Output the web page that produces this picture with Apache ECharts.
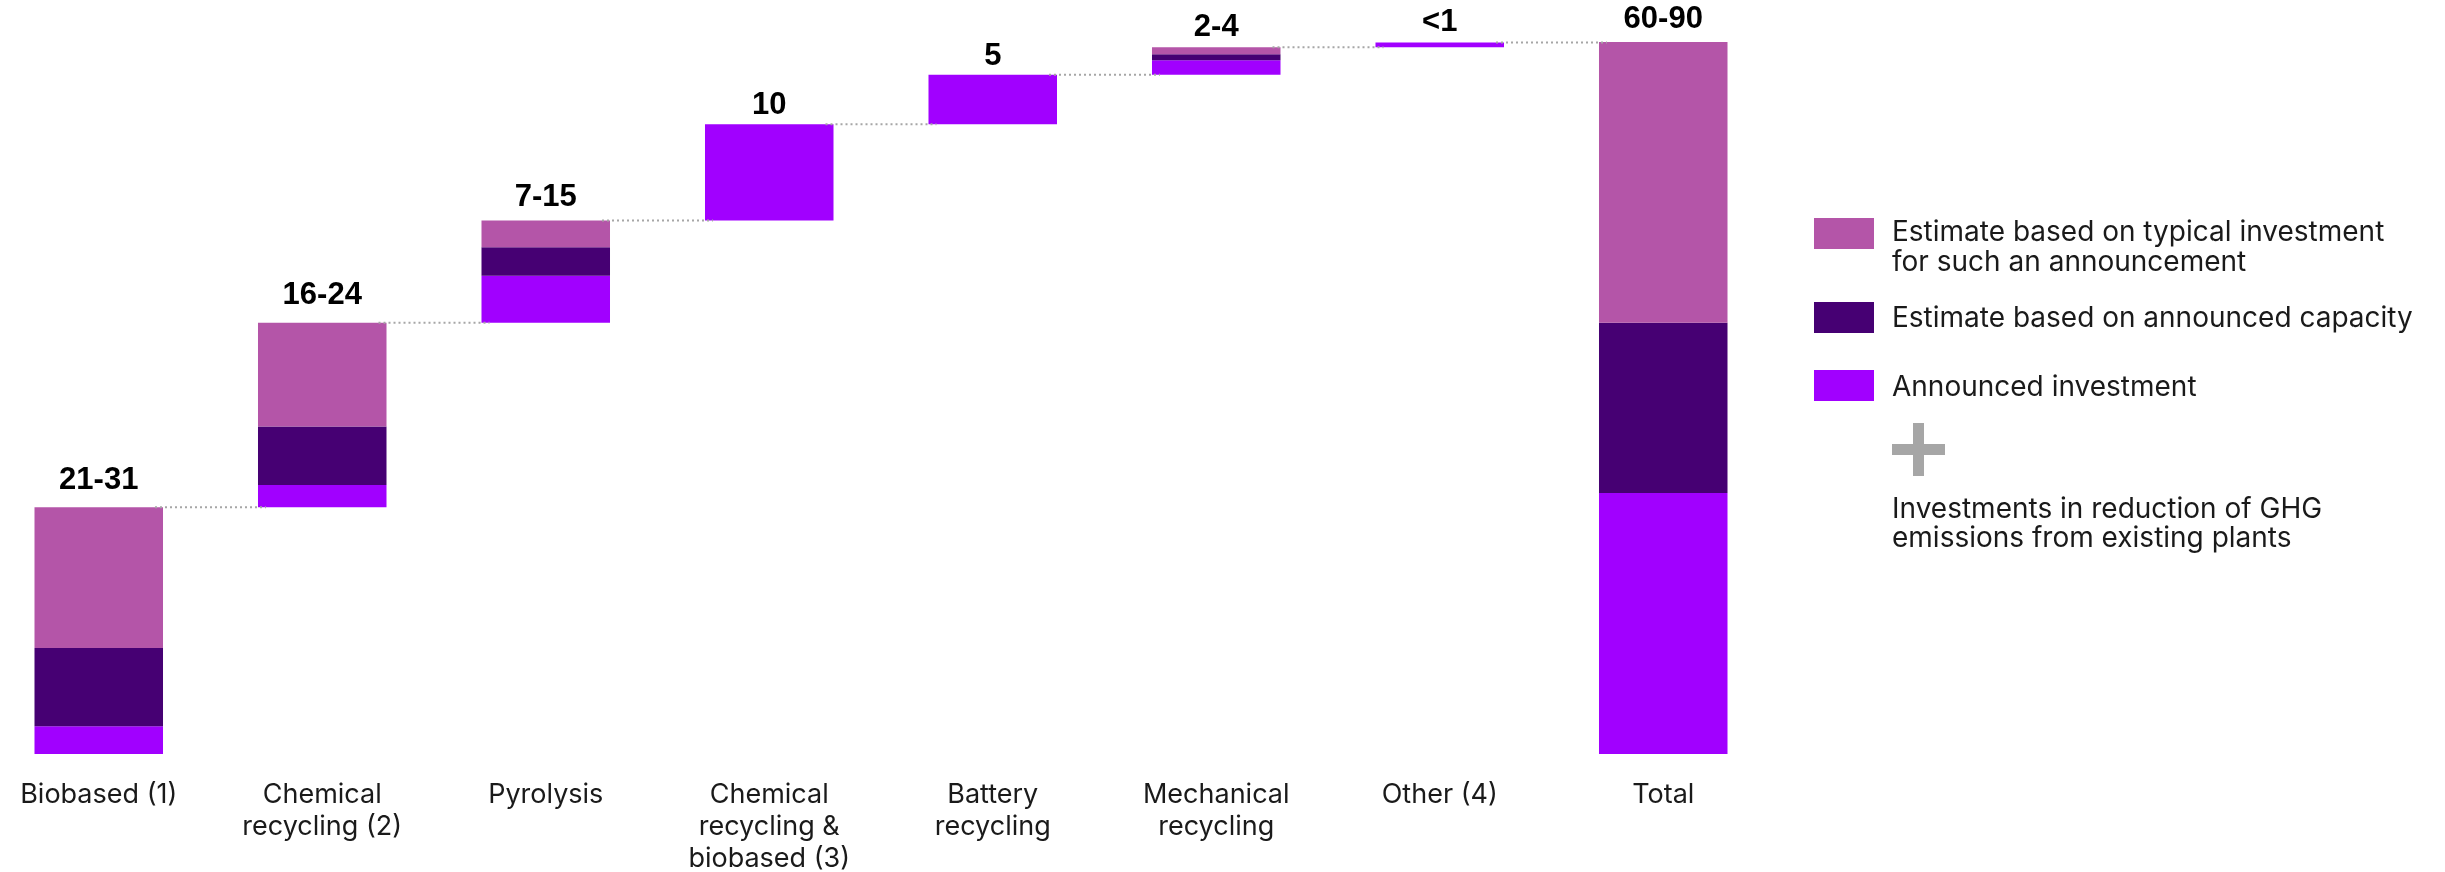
<!DOCTYPE html>
<html>
<head>
<meta charset="utf-8">
<script src="https://cdn.jsdelivr.net/npm/echarts@6/dist/echarts.min.js"></script>
<style>
  html, body { margin: 0; padding: 0; background: #fff; }
  #chart { width: 2445px; height: 872px; }
</style>
</head>
<body>
<div id="chart"></div>
<script>
var categories = [
  "Biobased (1)",
  "Chemical\nrecycling (2)",
  "Pyrolysis",
  "Chemical\nrecycling &\nbiobased (3)",
  "Battery\nrecycling",
  "Mechanical\nrecycling",
  "Other (4)",
  "Total"
];
var topLabels = ["21-31", "16-24", "7-15", "10", "5", "2-4", "<1", "60-90"];

// segment sizes (bottom to top)
var announced = [3.5, 2.8, 5.95, 12.15, 6.25, 1.85, 0.6, 33.0];
var capacity = [9.9, 7.4, 3.6, 0, 0, 0.75, 0, 21.5];
var typical = [17.8, 13.1, 3.4, 0, 0, 0.9, 0, 35.5];

var legendNames = [
  "Estimate based on typical investment\nfor such an announcement",
  "Estimate based on announced capacity",
  "Announced investment"
];
var noteText = "Investments in reduction of GHG\nemissions from existing plants";

var colTypical = "#B455A8";
var colCapacity = "#460073";
var colAnnounced = "#A100FF";

// gap between each value label and its bar (the labels are not evenly placed)
var labelGap = [11, 12, 7, 3, 3, 4, 4, 7];

// waterfall: invisible base under each step, total starts at 0
var base = [];
var tops = [];
var running = 0;
for (var i = 0; i < categories.length; i++) {
  var h = announced[i] + capacity[i] + typical[i];
  if (i == categories.length - 1) {
    base.push(0);
  } else {
    base.push(running);
    running += h;
    tops.push([i, running]);
  }
}

var typicalItems = typical.map(function (v, i) {
  return { value: v, label: { distance: labelGap[i] } };
});

var textFont = "Inter";

var chart = echarts.init(document.getElementById("chart"));
var option = {
  animation: false,
  grid: {
    left: -13,
    width: 1788,
    top: 42,
    height: 712,
    outerBoundsMode: "none"
  },
  xAxis: {
    type: "category",
    data: categories,
    axisLine: { show: false },
    axisTick: { show: false },
    axisLabel: {
      interval: 0,
      margin: 25,
      fontFamily: textFont,
      fontSize: 27,
      lineHeight: 32,
      color: "#1a1a1a"
    }
  },
  yAxis: {
    type: "value",
    min: 0,
    max: 90,
    show: false
  },
  series: [
    {
      name: "base",
      type: "bar",
      stack: "w",
      barWidth: "57.5%",
      silent: true,
      itemStyle: { color: "transparent" },
      data: base
    },
    {
      name: legendNames[2],
      type: "bar",
      stack: "w",
      itemStyle: { color: colAnnounced },
      data: announced
    },
    {
      name: legendNames[1],
      type: "bar",
      stack: "w",
      itemStyle: { color: colCapacity },
      data: capacity
    },
    {
      name: legendNames[0],
      type: "bar",
      stack: "w",
      itemStyle: { color: colTypical },
      label: {
        show: true,
        position: "top",
        fontFamily: "Liberation Sans",
        fontWeight: "bold",
        fontSize: 31,
        color: "#000",
        formatter: function (p) {
          return topLabels[p.dataIndex];
        }
      },
      data: typicalItems
    },
    {
      // dotted connectors between steps
      type: "custom",
      z: 5,
      silent: true,
      encode: { x: 0, y: 1 },
      renderItem: function (params, api) {
        var idx = api.value(0);
        var v = api.value(1);
        var p0 = api.coord([idx, v]);
        var p1 = api.coord([idx + 1, v]);
        var half = api.size([1, 0])[0] * 0.575 / 2;
        return {
          type: "line",
          shape: { x1: p0[0] + half - 8, y1: p0[1], x2: p1[0] - half + 8, y2: p1[1] },
          style: { stroke: "#A6A6A6", lineWidth: 2, lineDash: [2, 3] }
        };
      },
      data: tops
    }
  ],
  graphic: [
    { type: "rect", left: 1814, top: 218, shape: { width: 60, height: 31 }, style: { fill: colTypical } },
    { type: "rect", left: 1814, top: 302, shape: { width: 60, height: 31 }, style: { fill: colCapacity } },
    { type: "rect", left: 1814, top: 370, shape: { width: 60, height: 31 }, style: { fill: colAnnounced } },
    { type: "text", left: 1892, top: 218, style: { text: legendNames[0], font: "28px Inter", lineHeight: 30, fill: "#1a1a1a" } },
    { type: "text", left: 1892, top: 304, style: { text: legendNames[1], font: "28px Inter", lineHeight: 30, fill: "#1a1a1a" } },
    { type: "text", left: 1892, top: 373, style: { text: legendNames[2], font: "28px Inter", lineHeight: 30, fill: "#1a1a1a" } },
    { type: "rect", left: 1913, top: 423, shape: { width: 11, height: 53 }, style: { fill: "#A6A6A6" } },
    { type: "rect", left: 1892, top: 444, shape: { width: 53, height: 11 }, style: { fill: "#A6A6A6" } },
    { type: "text", left: 1892, top: 495, style: { text: noteText, font: "28px Inter", lineHeight: 29, fill: "#1a1a1a" } }
  ]
};
chart.setOption(option);
</script>
</body>
</html>
